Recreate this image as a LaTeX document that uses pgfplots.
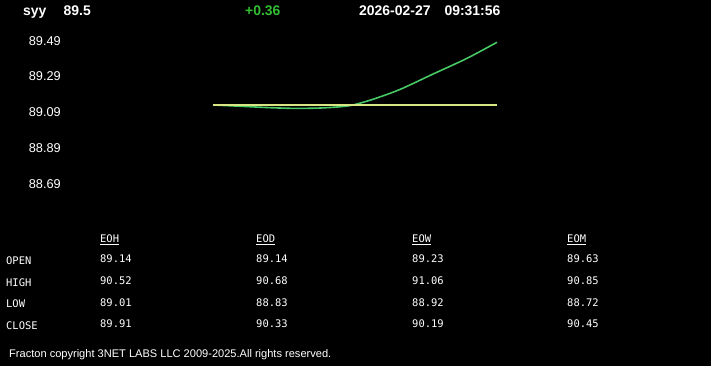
\documentclass[border=0pt]{standalone}
\usepackage{pgfplots}
\pgfplotsset{compat=1.18}
\usepackage{fontspec}
\setmainfont{Liberation Sans}
\newfontfamily\mono{DejaVu Sans Mono}
\definecolor{curvegreen}{RGB}{70,200,100}
\definecolor{openyellow}{RGB}{215,230,130}
\definecolor{chggreen}{RGB}{50,190,50}
\begin{document}
\begin{tikzpicture}
\begin{scope}[x=1bp,y=1bp]
\fill[black] (0,0) rectangle (711,366);
% header
\node[anchor=base west,inner sep=0pt,text=white,font=\fontsize{14}{16}\selectfont\bfseries] at (23,351) {syy};
\node[anchor=base west,inner sep=0pt,text=white,font=\fontsize{14}{16}\selectfont\bfseries] at (63.5,351) {89.5};
\node[anchor=base west,inner sep=0pt,text=chggreen,font=\fontsize{14}{16}\selectfont\bfseries] at (245,351) {+0.36};
\node[anchor=base west,inner sep=0pt,text=white,font=\fontsize{14}{16}\selectfont\bfseries] at (359,351) {2026-02-27\hspace{14bp}09:31:56};
% table
\begin{scope}[every node/.style={anchor=west,inner sep=0pt,text=white,font=\fontsize{10.5}{12}\selectfont\mono}]
\node at (100,126.5) {\underline{EOH}};
\node at (256,126.5) {\underline{EOD}};
\node at (412,126.5) {\underline{EOW}};
\node at (567,126.5) {\underline{EOM}};
\node at (6,105.5) {OPEN};
\node at (6,83.5) {HIGH};
\node at (6,62) {LOW};
\node at (6,40.5) {CLOSE};
\node at (100,107) {89.14}; \node at (256,107) {89.14}; \node at (412,107) {89.23}; \node at (567,107) {89.63};
\node at (100,85) {90.52}; \node at (256,85) {90.68}; \node at (412,85) {91.06}; \node at (567,85) {90.85};
\node at (100,63.5) {89.01}; \node at (256,63.5) {88.83}; \node at (412,63.5) {88.92}; \node at (567,63.5) {88.72};
\node at (100,42) {89.91}; \node at (256,42) {90.33}; \node at (412,42) {90.19}; \node at (567,42) {90.45};
\end{scope}
\node[anchor=west,inner sep=0pt,text=white,font=\fontsize{11.1}{13}\selectfont] at (9,11) {Fracton copyright 3NET LABS LLC 2009-2025.All rights reserved.};
\end{scope}
\begin{axis}[
  at={(70bp,166.1bp)}, anchor=south west,
  scale only axis, width=580bp, height=178.75bp,
  xmin=70, xmax=650, ymin=88.6, ymax=89.6,
  axis line style={draw=none}, tick style={draw=none},
  xtick=\empty,
  ytick={88.69,88.89,89.09,89.29,89.49},
  yticklabels={88.69,88.89,89.09,89.29,89.49},
  yticklabel style={anchor=east,inner sep=0pt,xshift=-9bp,text=white,font=\fontsize{12.8}{14}\selectfont},
  clip=false,
]
\addplot[curvegreen, line width=1.6bp, smooth, tension=0.5] coordinates {
(213,89.131) (240,89.124) (270,89.116) (295,89.112) (320,89.114) (340,89.121) (353,89.131)
(373,89.163) (400,89.218) (433,89.304) (467,89.392) (497,89.482)};
\addplot[openyellow, line width=1.6bp] coordinates {(213,89.131) (497,89.131)};
\end{axis}
\end{tikzpicture}
\end{document}
